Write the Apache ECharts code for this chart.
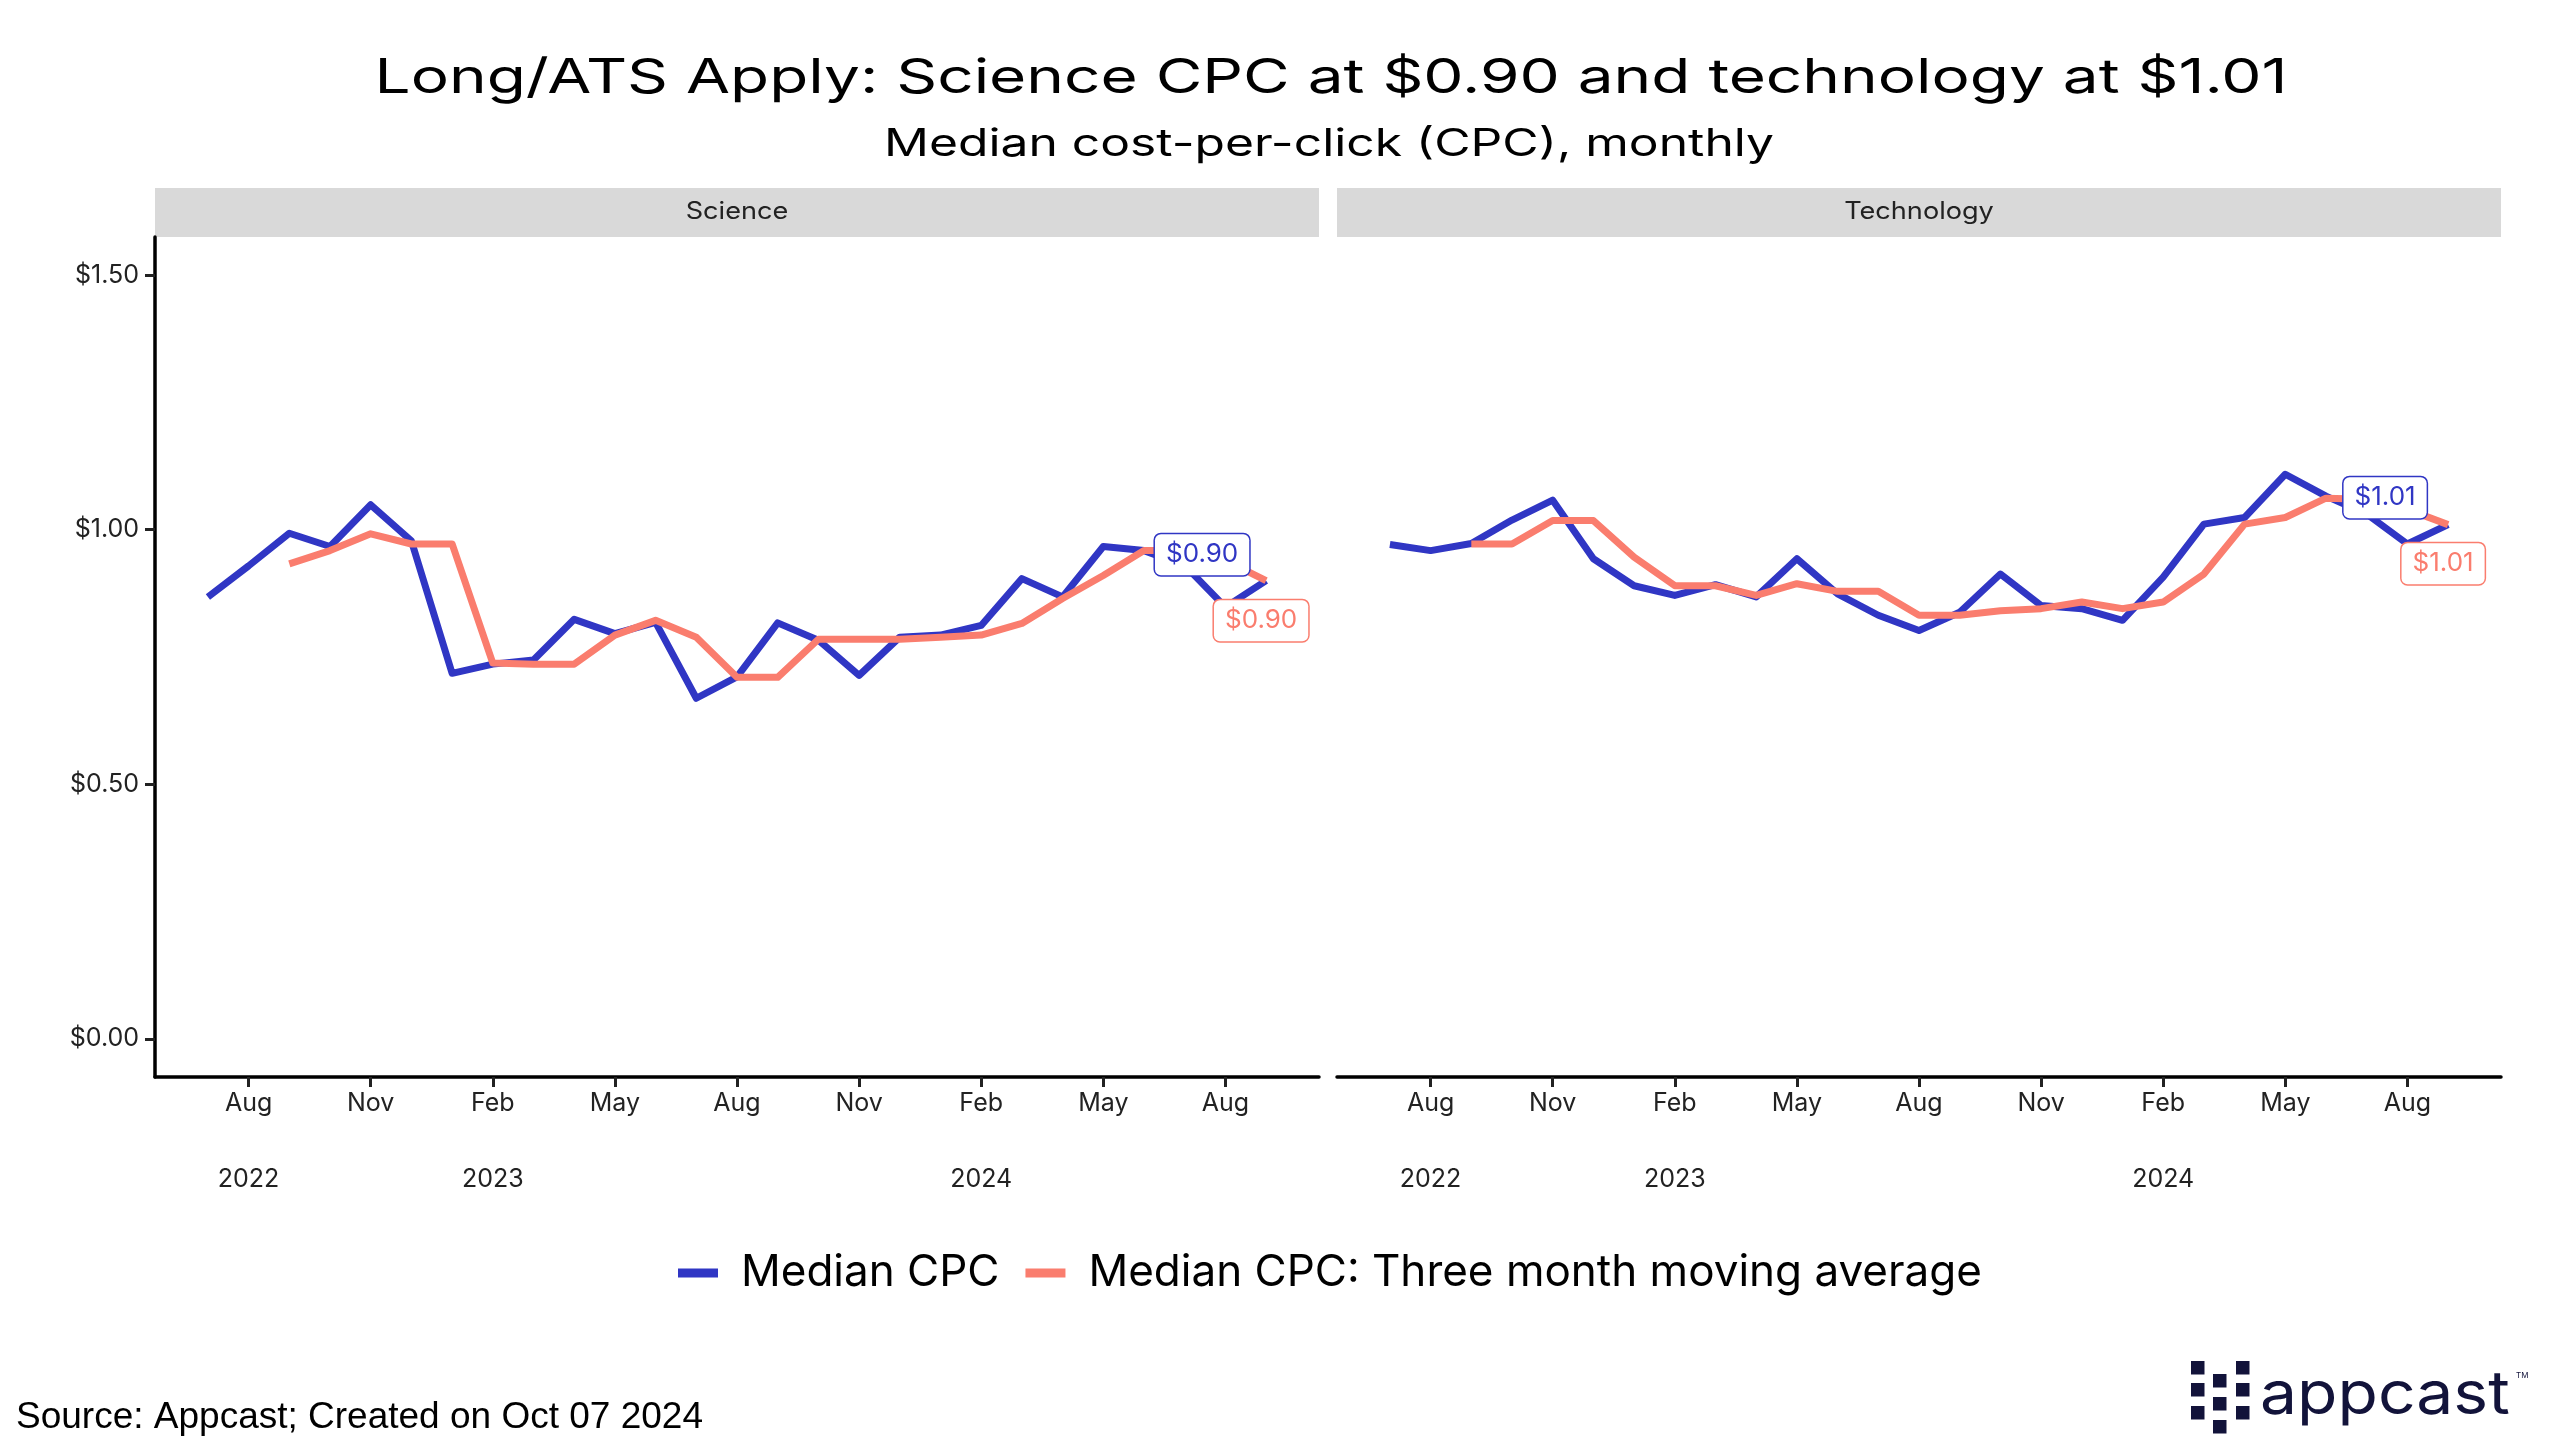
<!DOCTYPE html>
<html>
<head>
<meta charset="utf-8">
<script src="https://cdn.jsdelivr.net/npm/echarts@6/dist/echarts.min.js"></script>
<style>
  html, body { margin: 0; padding: 0; background: #ffffff; }
  #chart { width: 2560px; height: 1455px; }
</style>
</head>
<body>
<div id="chart"></div>
<script>
// ---- Data ----
const months = ['2022-07','2022-08','2022-09','2022-10','2022-11','2022-12',
  '2023-01','2023-02','2023-03','2023-04','2023-05','2023-06','2023-07','2023-08','2023-09','2023-10','2023-11','2023-12',
  '2024-01','2024-02','2024-03','2024-04','2024-05','2024-06','2024-07','2024-08','2024-09'];

const scienceCPC = [0.868,0.929,0.993,0.967,1.049,0.978,
  0.718,0.736,0.744,0.824,0.796,0.818,0.669,0.711,0.817,0.783,0.714,0.789,
  0.793,0.812,0.904,0.868,0.967,0.959,0.930,0.848,0.900];
const scienceMA = [null,null,0.933,0.959,0.992,0.972,
  0.972,0.738,0.736,0.736,0.793,0.822,0.789,0.710,0.710,0.785,0.785,0.785,
  0.789,0.793,0.816,0.865,0.910,0.959,0.959,0.940,0.900];

const techCPC = [0.971,0.959,0.973,1.019,1.058,0.943,
  0.890,0.871,0.892,0.868,0.943,0.874,0.832,0.802,0.838,0.913,0.851,0.845,
  0.822,0.907,1.011,1.024,1.109,1.066,1.031,0.972,1.010];
const techMA = [null,null,0.972,0.972,1.018,1.018,
  0.946,0.890,0.890,0.871,0.894,0.879,0.879,0.832,0.832,0.841,0.845,0.858,
  0.845,0.858,0.913,1.011,1.024,1.062,1.060,1.040,1.010];

const panels = ['Science', 'Technology'];
const seriesNames = ['Median CPC', 'Median CPC: Three month moving average'];
const tickMonths = ['2022-08','2022-11','2023-02','2023-05','2023-08','2023-11','2024-02','2024-05','2024-08'];
const tickLabels = ['Aug','Nov','Feb','May','Aug','Nov','Feb','May','Aug'];
const yearMonths = ['2022-08','2023-02','2024-02'];
const yearLabels = ['2022','2023','2024'];
const yTicks = [0, 0.5, 1.0, 1.5];

const titleText = 'Long/ATS Apply: Science CPC at $0.90 and technology at $1.01';
const subtitleText = 'Median cost-per-click (CPC), monthly';
const sourceText = 'Source: Appcast; Created on Oct 07 2024';

// ---- Styling ----
const BLUE = '#3036C4';
const ORANGE = '#FA7D6E';
const FONT = 'Inter, "DejaVu Sans", sans-serif';

const tickIdx = tickMonths.map(m => months.indexOf(m));
const yearIdx = yearMonths.map(m => months.indexOf(m));

const grids = [
  { left: 155, top: 237, width: 1164, height: 840 },
  { left: 1337, top: 237, width: 1164, height: 840 }
];

const xAxes = [];
const yAxes = [];
[0, 1].forEach(g => {
  xAxes.push({
    type: 'value', gridIndex: g, min: -1.3, max: 27.3,
    axisLine: { show: true, onZero: false, lineStyle: { color: '#000', width: 3.5 } },
    axisTick: { show: true, customValues: tickIdx, length: 10, lineStyle: { color: '#222', width: 3 } },
    axisLabel: {
      show: true, customValues: tickIdx, margin: 14,
      formatter: v => tickLabels[tickIdx.indexOf(Math.round(v))] || '',
      color: '#222', fontFamily: FONT, fontSize: 25
    },
    splitLine: { show: false }
  });
  xAxes.push({
    type: 'value', gridIndex: g, min: -1.3, max: 27.3, position: 'bottom',
    axisLine: { show: false, onZero: false }, axisTick: { show: false },
    axisLabel: {
      show: true, customValues: yearIdx, margin: 90,
      formatter: v => yearLabels[yearIdx.indexOf(Math.round(v))] || '',
      color: '#222', fontFamily: FONT, fontSize: 25
    },
    splitLine: { show: false }
  });
  yAxes.push({
    type: 'value', gridIndex: g, min: -0.075, max: 1.575,
    show: g === 0,
    axisLine: { show: true, onZero: false, lineStyle: { color: '#000', width: 3.5 } },
    axisTick: { show: true, customValues: yTicks, length: 10, lineStyle: { color: '#222', width: 3 } },
    axisLabel: {
      show: true, customValues: yTicks, margin: 16,
      formatter: v => '$' + Number(v).toFixed(2),
      color: '#222', fontFamily: FONT, fontSize: 25
    },
    splitLine: { show: false }
  });
});

function mkLine(name, values, color, xi, yi, z) {
  return {
    name: name, type: 'line', xAxisIndex: xi, yAxisIndex: yi,
    data: values.map((v, i) => [i, v]),
    showSymbol: false, connectNulls: false,
    lineStyle: { color: color, width: 7, join: 'round' },
    itemStyle: { color: color },
    emphasis: { disabled: true },
    z: z, animation: false
  };
}

function mkEndLabel(name, values, color, xi, yi, off) {
  const last = values.length - 1;
  const v = values[last];
  return {
    name: name, type: 'scatter', xAxisIndex: xi, yAxisIndex: yi,
    data: [[last, v]], symbolSize: 0, z: 10, silent: true, animation: false,
    itemStyle: { color: color, opacity: 1 },
    emphasis: { disabled: true },
    label: {
      show: true, position: 'inside', offset: off,
      formatter: '$' + v.toFixed(2), opacity: 1,
      color: color, fontFamily: FONT, fontSize: 26,
      backgroundColor: '#ffffff', borderColor: color, borderWidth: 1.5, borderRadius: 6,
      padding: [8, 11, 7, 11]
    }
  };
}

const series = [
  mkLine(seriesNames[0], scienceCPC, BLUE, 0, 0, 2),
  mkLine(seriesNames[1], scienceMA, ORANGE, 0, 0, 3),
  mkLine(seriesNames[0], techCPC, BLUE, 2, 1, 2),
  mkLine(seriesNames[1], techMA, ORANGE, 2, 1, 3),
  mkEndLabel(seriesNames[0], scienceCPC, BLUE, 0, 0, [-64, -26]),
  mkEndLabel(seriesNames[1], scienceMA, ORANGE, 0, 0, [-5, 40]),
  mkEndLabel(seriesNames[0], techCPC, BLUE, 2, 1, [-63, -27]),
  mkEndLabel(seriesNames[1], techMA, ORANGE, 2, 1, [-5, 39])
];

// titles, strips, source, logo
const graphics = [];
graphics.push({
  type: 'text', x: 1331, y: 79, scaleX: 1.33, scaleY: 1,
  style: { text: titleText, fill: '#000', font: '48px ' + FONT, align: 'center', verticalAlign: 'middle' }
});
graphics.push({
  type: 'text', x: 1329, y: 145, scaleX: 1.31, scaleY: 1,
  style: { text: subtitleText, fill: '#000', font: '38px ' + FONT, align: 'center', verticalAlign: 'middle' }
});
panels.forEach((p, g) => {
  graphics.push({
    type: 'rect', shape: { x: grids[g].left, y: 188, width: grids[g].width, height: 49 },
    style: { fill: '#d9d9d9' }, silent: true
  });
  graphics.push({
    type: 'text', x: grids[g].left + grids[g].width / 2, y: 212, scaleX: 1.13, scaleY: 1,
    style: { text: p, fill: '#222', font: '24px ' + FONT, align: 'center', verticalAlign: 'middle' },
    silent: true
  });
});
graphics.push({
  type: 'text', x: 16, y: 1418,
  style: { text: sourceText, fill: '#000',
    font: '37px "Liberation Sans", Arial, sans-serif', verticalAlign: 'middle' }
});
const LOGO = '#12133a';
const sq = 13.5;
[[2191, [1361, 1383, 1406]], [2213, [1374, 1397, 1420]], [2236, [1361, 1383, 1406]]].forEach(col => {
  col[1].forEach(y => graphics.push({ type: 'rect', shape: { x: col[0], y: y, width: sq, height: sq }, style: { fill: LOGO } }));
});
graphics.push({
  type: 'text', x: 2260, y: 1396, scaleX: 1.1, scaleY: 1,
  style: { text: 'appcast', fill: LOGO, font: '60px ' + FONT, verticalAlign: 'middle' }
});
graphics.push({
  type: 'text', x: 2516, y: 1376,
  style: { text: 'TM', fill: LOGO, font: '8px ' + FONT, verticalAlign: 'middle' }
});

const chart = echarts.init(document.getElementById('chart'), null, { renderer: 'canvas' });
chart.setOption({
  backgroundColor: '#ffffff',
  animation: false,
  legend: {
    data: seriesNames, left: 673, top: 1246, icon: 'rect', itemWidth: 40, itemHeight: 9,
    itemGap: 26, textStyle: { fontFamily: FONT, fontSize: 44, color: '#000', padding: [0, 0, 0, 18] }
  },
  grid: grids,
  xAxis: xAxes,
  yAxis: yAxes,
  series: series,
  graphic: graphics
});
</script>
</body>
</html>
